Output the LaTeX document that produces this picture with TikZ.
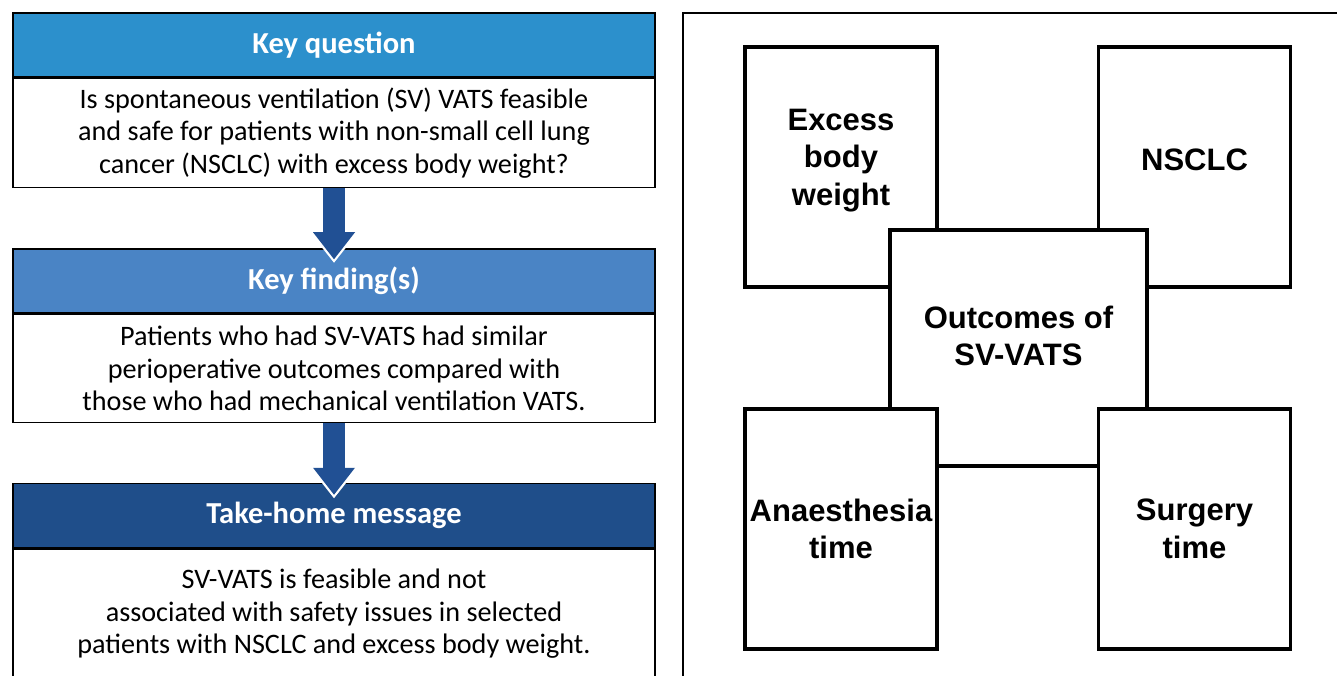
\documentclass[tikz,border=0pt]{standalone}
\usepackage{fontspec}
\setmainfont{Carlito}
\newfontfamily\arialfont{Liberation Sans}
\usepackage{xcolor}
\usetikzlibrary{arrows.meta, positioning}

\definecolor{qblue}{RGB}{44,144,204}
\definecolor{fblue}{RGB}{74,132,197}
\definecolor{tblue}{RGB}{31,78,138}
\definecolor{ablue}{RGB}{33,80,148}

\begin{document}
\begin{tikzpicture}[
    x=1pt, y=-1pt,
    head/.style={draw=black, line width=1.5pt, minimum width=642pt, minimum height=64pt, inner sep=0pt, text=white, font=\fontsize{30.5}{34}\selectfont\bfseries},
    body/.style={draw=black, line width=1.5pt, fill=white, minimum width=642pt, inner sep=0pt, align=center, font=\fontsize{28.2}{32.5}\selectfont},
    downarrow/.style={draw=ablue, line width=22pt, -{Triangle[width=42pt,length=27pt,line width=0pt]},
        preaction={draw=white, line width=22pt, shorten >=-3.5pt, -{Triangle[width=49pt,length=31pt,line width=0pt]}}},
    card/.style={draw=black, line width=3.5pt, fill=white, minimum width=192pt, minimum height=240pt, inner sep=2pt, align=center, font=\arialfont\fontsize{31}{37.5}\selectfont\bfseries},
    node distance=0pt
]
\useasboundingbox (0,0) rectangle (1337,676);

% left panel
\node[head, fill=qblue] (qh) at (334,45) {Key question};
\node[body, minimum height=109pt, below=of qh] (qb) {Is spontaneous ventilation (SV) VATS feasible\\and safe for patients with non-small cell lung\\cancer (NSCLC) with excess body weight?};

\node[head, fill=fblue] (fh) at (334,281) {Key finding(s)};
\node[body, minimum height=108pt, below=of fh] (fb) {Patients who had SV-VATS had similar\\perioperative outcomes compared with\\those who had mechanical ventilation VATS.};

\node[head, fill=tblue] (th) at (334,515.5) {Take-home message};
\node[body, minimum height=130pt, below=of th] (tb) {SV-VATS is feasible and not\\associated with safety issues in selected\\patients with NSCLC and excess body weight.};

\draw[downarrow] (qb.south) -- ([yshift=-11pt]fh.north);
\draw[downarrow] (fb.south) -- ([yshift=-12pt]th.north);

% right panel
\draw[line width=1.5pt] (683,13) rectangle (1345,690);
\node[card, text depth=20pt] (ew) at (841,167) {Excess\\body\\weight};
\node[card, text depth=14pt] (ns) at (1194.5,167) {NSCLC};
\node[card, minimum width=257pt, minimum height=236pt, text depth=24pt] (oc) at (1018.5,348) {Outcomes of\\SV-VATS};
\node[card] (an) at (841,529) {Anaesthesia\\time};
\node[card] (su) at (1194.5,529) {Surgery\\time};
\end{tikzpicture}
\end{document}
